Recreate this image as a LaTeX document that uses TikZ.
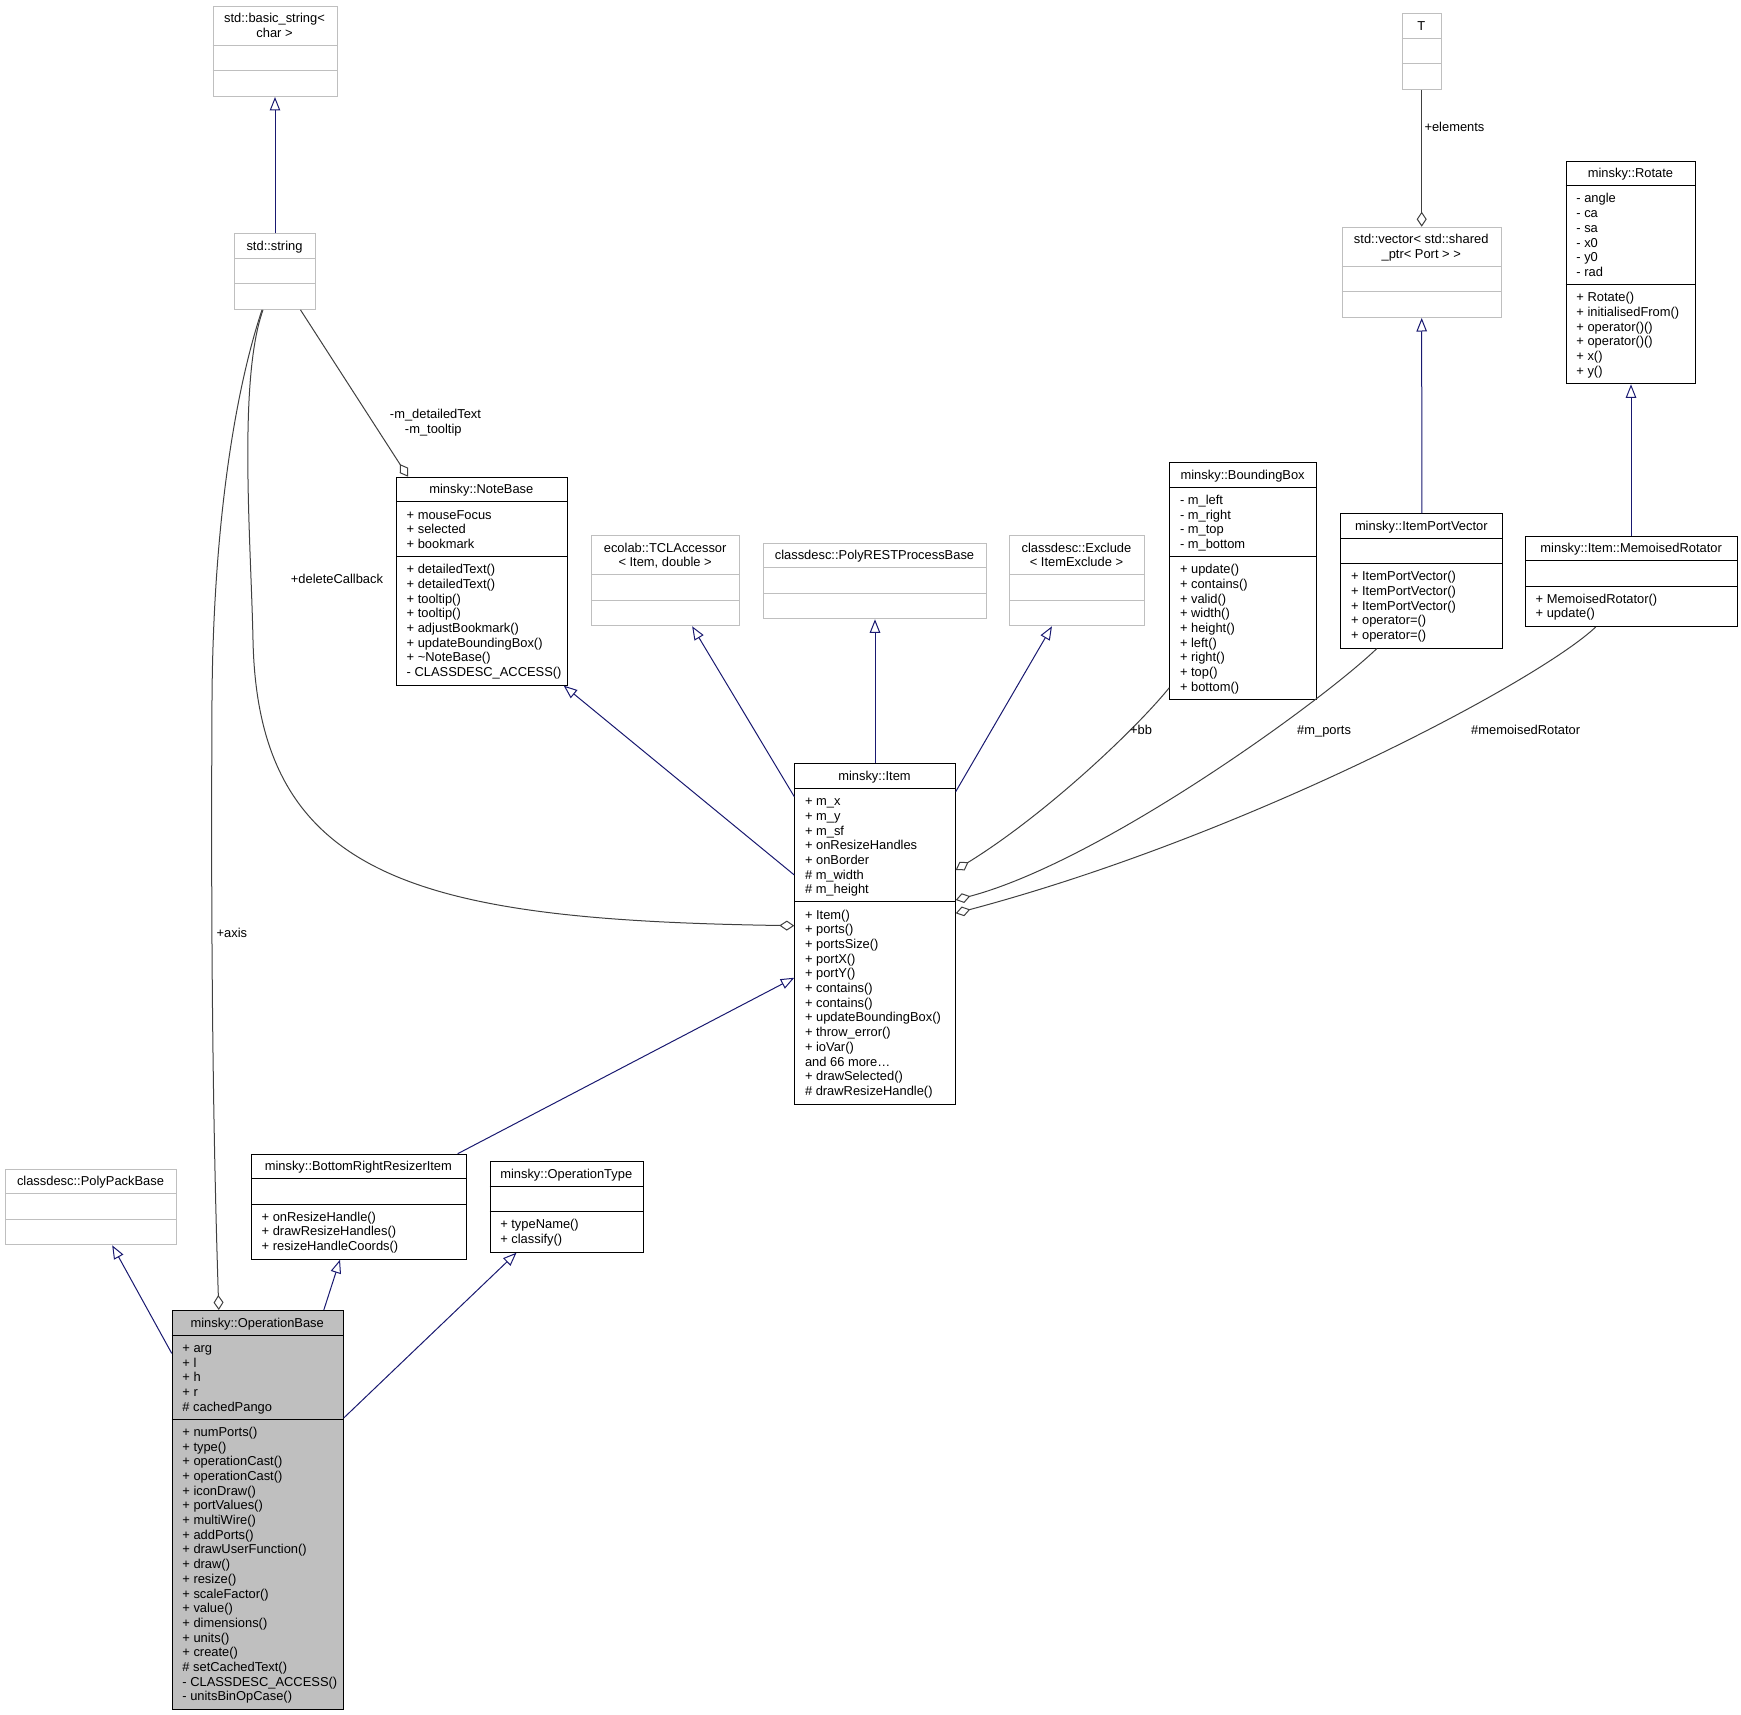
\documentclass[tikz,border=0pt]{standalone}
\usepackage{fontspec}
\setmainfont{Liberation Sans}
\usetikzlibrary{arrows.meta,calc}
\definecolor{boxgrey}{HTML}{BFBFBF}
\definecolor{inhblue}{HTML}{191970}
\definecolor{agggrey}{HTML}{404040}
\newcommand\umlfont{\fontsize{12.9}{14.7}\selectfont}
\tikzset{
  bbox/.style={draw=black,line width=1pt,inner sep=0pt,rectangle,fill=white},
  gbox/.style={draw=boxgrey,line width=1pt,inner sep=0pt,rectangle,fill=white},
  hbox/.style={draw=black,line width=1pt,inner sep=0pt,rectangle,fill=boxgrey},
  bsep/.style={draw=black,line width=1pt},
  gsep/.style={draw=boxgrey,line width=1pt},
  mem/.style={anchor=base west,inner sep=0pt,font=\umlfont},
  ttl/.style={anchor=base,inner sep=0pt,font=\umlfont},
  lbl/.style={anchor=base west,inner sep=0pt,font=\umlfont},
  lblc/.style={anchor=base,inner sep=0pt,font=\umlfont},
  inh/.style={draw=inhblue,line width=1pt,-{Triangle[open,length=13.5pt,width=10.5pt]}},
  agg/.style={draw=agggrey,line width=1pt,-{Diamond[open,length=15pt,width=10pt]}}
}
\newcommand\mem[4]{\foreach \tx [count=\i from 0] in {#4} {\node[mem] (#1\i) at (#2,#3+\i*14.7) {\tx};}}
\newcommand\cbox[6]{\node[#6,minimum width={#3-#2},minimum height={#5-#4},anchor=north west] (#1) at (#2,#4) {};}
\newcommand\csep[4]{\draw[#4] (#1,#3) -- (#2,#3);}
\begin{document}
\begin{tikzpicture}[x=1pt,y=-1pt]
\useasboundingbox (0,0) rectangle (1741,1715);

% std::basic_string<char>
\cbox{bstr}{212.5}{336.5}{5.7}{96}{gbox}
\csep{212.5}{336.5}{45.6}{gsep}\csep{212.5}{336.5}{70.8}{gsep}
\node[ttl] (bstrT1) at (274.5,22.8) {std::basic\_string<};
\node[ttl] (bstrT2) at (274.5,37.5) {char >};

% std::string
\cbox{str}{234.3}{314.7}{233.3}{308.9}{gbox}
\csep{234.3}{314.7}{258.5}{gsep}\csep{234.3}{314.7}{283.7}{gsep}
\node[ttl] (strT) at (274.5,250.4) {std::string};

% T
\cbox{T}{1401.7}{1440.7}{13.3}{88.9}{gbox}
\csep{1401.7}{1440.7}{38.5}{gsep}\csep{1401.7}{1440.7}{63.7}{gsep}
\node[ttl] (TT) at (1421.2,30.4) {T};

% std::vector
\cbox{vec}{1341.7}{1500.7}{226.7}{317}{gbox}
\csep{1341.7}{1500.7}{266.6}{gsep}\csep{1341.7}{1500.7}{291.8}{gsep}
\node[ttl] (vecT1) at (1421.2,243.8) {std::vector< std::shared};
\node[ttl] (vecT2) at (1421.2,258.5) {\_ptr< Port > >};

% minsky::Rotate
\cbox{rot}{1565.7}{1695.3}{160.7}{383.3}{bbox}
\csep{1565.7}{1695.3}{185.9}{bsep}\csep{1565.7}{1695.3}{284.6}{bsep}
\node[ttl] (rotT) at (1630.5,177.8) {minsky::Rotate};
\mem{rotA}{1576.2}{203}{- angle,- ca,- sa,- x0,- y0,- rad}
\mem{rotM}{1576.2}{301.7}{+ Rotate(),+ initialisedFrom(),+ operator()(),+ operator()(),+ x(),+ y()}

% minsky::NoteBase
\cbox{note}{396}{566.7}{476.7}{684.6}{bbox}
\csep{396}{566.7}{501.9}{bsep}\csep{396}{566.7}{556.5}{bsep}
\node[ttl] (noteT) at (481.35,493.8) {minsky::NoteBase};
\mem{noteA}{406.5}{519}{+ mouseFocus,+ selected,+ bookmark}
\mem{noteM}{406.5}{573.6}{+ detailedText(),+ detailedText(),+ tooltip(),+ tooltip(),+ adjustBookmark(),+ updateBoundingBox(),+ \textasciitilde NoteBase(),- CLASSDESC\_ACCESS()}

% ecolab::TCLAccessor
\cbox{tcl}{591}{739.3}{535}{625.3}{gbox}
\csep{591}{739.3}{574.9}{gsep}\csep{591}{739.3}{600.1}{gsep}
\node[ttl] (tclT1) at (665.15,552.1) {ecolab::TCLAccessor};
\node[ttl] (tclT2) at (665.15,566.8) {< Item, double >};

% classdesc::PolyRESTProcessBase
\cbox{prest}{763}{986}{542.7}{618.3}{gbox}
\csep{763}{986}{567.9}{gsep}\csep{763}{986}{593.1}{gsep}
\node[ttl] (prestT) at (874.5,559.8) {classdesc::PolyRESTProcessBase};

% classdesc::Exclude
\cbox{excl}{1009.3}{1143.6}{535}{625.3}{gbox}
\csep{1009.3}{1143.6}{574.9}{gsep}\csep{1009.3}{1143.6}{600.1}{gsep}
\node[ttl] (exclT1) at (1076.45,552.1) {classdesc::Exclude};
\node[ttl] (exclT2) at (1076.45,566.8) {< ItemExclude >};

% minsky::BoundingBox
\cbox{bbx}{1169.3}{1316}{462}{699.3}{bbox}
\csep{1169.3}{1316}{487.2}{bsep}\csep{1169.3}{1316}{556.5}{bsep}
\node[ttl] (bbxT) at (1242.65,479.1) {minsky::BoundingBox};
\mem{bbxA}{1179.8}{504.3}{- m\_left,- m\_right,- m\_top,- m\_bottom}
\mem{bbxM}{1179.8}{573.6}{+ update(),+ contains(),+ valid(),+ width(),+ height(),+ left(),+ right(),+ top(),+ bottom()}

% minsky::ItemPortVector
\cbox{ipv}{1340.3}{1502.3}{513.3}{647.7}{bbox}
\csep{1340.3}{1502.3}{538.5}{bsep}\csep{1340.3}{1502.3}{563.7}{bsep}
\node[ttl] (ipvT) at (1421.3,530.4) {minsky::ItemPortVector};
\mem{ipvM}{1350.8}{580.8}{+ ItemPortVector(),+ ItemPortVector(),+ ItemPortVector(),+ operator=(),+ operator=()}

% minsky::Item::MemoisedRotator
\cbox{memo}{1525}{1737.3}{535.7}{626}{bbox}
\csep{1525}{1737.3}{560.9}{bsep}\csep{1525}{1737.3}{586.1}{bsep}
\node[ttl] (memoT) at (1631.15,552.8) {minsky::Item::MemoisedRotator};
\mem{memoM}{1535.5}{603.2}{+ MemoisedRotator(),+ update()}

% minsky::Item
\cbox{item}{794.3}{954.7}{763.3}{1103.5}{bbox}
\csep{794.3}{954.7}{788.5}{bsep}\csep{794.3}{954.7}{901.9}{bsep}
\node[ttl] (itemT) at (874.5,780.4) {minsky::Item};
\mem{itemA}{804.8}{805.6}{+ m\_x,+ m\_y,+ m\_sf,+ onResizeHandles,+ onBorder,\# m\_width,\# m\_height}
\mem{itemM}{804.8}{919}{+ Item(),+ ports(),+ portsSize(),+ portX(),+ portY(),+ contains(),+ contains(),+ updateBoundingBox(),+ throw\_error(),+ ioVar(),and 66 more\ldots,+ drawSelected(),\# drawResizeHandle()}

% classdesc::PolyPackBase
\cbox{ppack}{5}{176}{1168.7}{1244.3}{gbox}
\csep{5}{176}{1193.9}{gsep}\csep{5}{176}{1219.1}{gsep}
\node[ttl] (ppackT) at (90.5,1185.8) {classdesc::PolyPackBase};

% minsky::BottomRightResizerItem
\cbox{brr}{251}{465.7}{1153.7}{1258.7}{bbox}
\csep{251}{465.7}{1178.9}{bsep}\csep{251}{465.7}{1204.1}{bsep}
\node[ttl] (brrT) at (358.35,1170.8) {minsky::BottomRightResizerItem};
\mem{brrM}{261.5}{1221.2}{+ onResizeHandle(),+ drawResizeHandles(),+ resizeHandleCoords()}

% minsky::OperationType
\cbox{optype}{489.6}{642.9}{1161.4}{1251.7}{bbox}
\csep{489.6}{642.9}{1186.6}{bsep}\csep{489.6}{642.9}{1211.8}{bsep}
\node[ttl] (optypeT) at (566.25,1178.5) {minsky::OperationType};
\mem{optypeM}{500.1}{1228.9}{+ typeName(),+ classify()}

% minsky::OperationBase
\cbox{opbase}{171.7}{342.7}{1310}{1709}{hbox}
\csep{171.7}{342.7}{1335.2}{bsep}\csep{171.7}{342.7}{1419.2}{bsep}
\node[ttl] (opbaseT) at (257.2,1327.1) {minsky::OperationBase};
\mem{opbaseA}{182.2}{1352.3}{+ arg,+ l,+ h,+ r,\# cachedPango}
\mem{opbaseM}{182.2}{1436.3}{+ numPorts(),+ type(),+ operationCast(),+ operationCast(),+ iconDraw(),+ portValues(),+ multiWire(),+ addPorts(),+ drawUserFunction(),+ draw(),+ resize(),+ scaleFactor(),+ value(),+ dimensions(),+ units(),+ create(),\# setCachedText(),- CLASSDESC\_ACCESS(),- unitsBinOpCase()}

% inheritance
\draw[inh] (str.north) -- (bstr.south);
\draw[inh] (ipv.north) -- (vec.south);
\draw[inh] (rot.south |- memo.north) -- (rot.south);
\draw[inh] ($(item.north west)+(0,111.7)$) -- ($(note.south east)+(-4,0)$);
\draw[inh] ($(item.north west)+(0,33.4)$) -- ($(tcl.south)+(26.5,0)$);
\draw[inh] (item.north) -- (prest.south);
\draw[inh] ($(item.north east)+(0,28.4)$) -- ($(excl.south)+(-25,0)$);
\draw[inh] ($(brr.north east)+(-9,0)$) -- ($(item.north west)+(0,214.4)$);
\draw[inh] ($(opbase.north west)+(0,43.3)$) -- ($(ppack.south)+(21.2,0)$);
\draw[inh] ($(opbase.north)+(66.1,0)$) -- ($(brr.south west)+(89,0)$);
\draw[inh] ($(opbase.north east)+(0,108)$) -- ($(optype.south)+(-50.25,0)$);

% aggregation
\draw[agg] (T.south) -- (vec.north);
\draw[agg] ($(str.south)+(25.5,0)$) -- ($(note.north west)+(12,0)$);
\draw[agg] ($(str.south)+(-13,0)$) .. controls (232,400) and (213,540) .. (212,700) .. controls (211,900) and (212,1100) .. ($(opbase.north)+(-38.9,0)$);
\draw[agg] ($(str.south)+(-12,0)$) .. controls (238,380) and (250.9,540) .. (253,640) .. controls (258,880) and (420,920) .. ($(item.north west)+(0,162.4)$);
\draw[agg] ($(bbx.south west)+(0,-12.6)$) .. controls (1135,730) and (1045,815) .. ($(item.north east)+(0,106.7)$);
\draw[agg] ($(ipv.south west)+(36.4,0)$) .. controls (1320,703) and (1100,862) .. ($(item.north east)+(0,136.7)$);
\draw[agg] ($(memo.south west)+(70.7,0)$) .. controls (1540,680) and (1250,835) .. ($(item.north east)+(0,150)$);

% labels
\node[lbl] (lAxis) at (216.5,937.5) {+axis};
\node[lbl] (lDel) at (290.7,583.8) {+deleteCallback};
\node[lblc] (lNote1) at (435.5,418.8) {-m\_detailedText};
\node[lblc] (lNote2) at (433.3,433.2) {-m\_tooltip};
\node[lbl] (lElem) at (1424.3,131.8) {+elements};
\node[lbl] (lbb) at (1130,734) {+bb};
\node[lbl] (lports) at (1297,734) {\#m\_ports};
\node[lbl] (lmemo) at (1471,734) {\#memoisedRotator};
\end{tikzpicture}
\end{document}
